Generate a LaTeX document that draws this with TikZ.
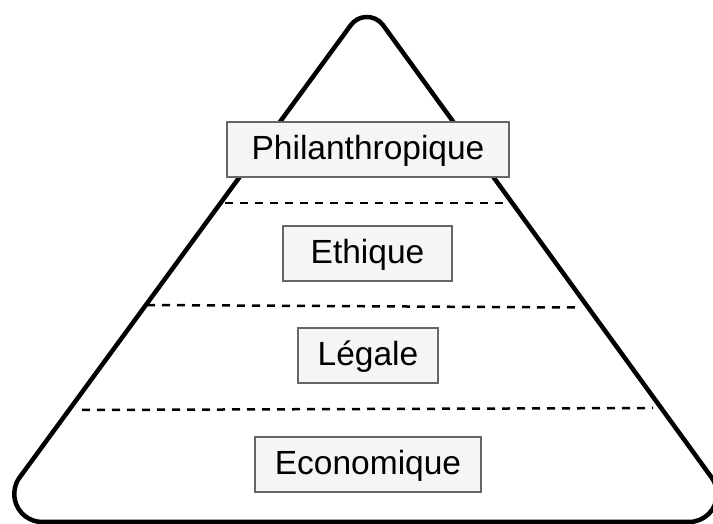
\documentclass[tikz,border=0pt]{standalone}
\usepackage{fontspec}
\setmainfont{Liberation Sans}
\definecolor{boxgray}{HTML}{666666}
\definecolor{boxfill}{HTML}{F5F5F5}
\begin{document}
\begin{tikzpicture}[x=1pt,y=1pt,
  pyramid/.style={draw=black,line width=4.5pt,line join=round},
  divider/.style={draw=black,line width=2.5pt,dash pattern=on 8pt off 7pt},
  levelbox/.style={draw=boxgray,fill=boxfill,line width=2pt,inner sep=0pt,
    minimum height=55pt,font=\fontsize{33.5}{40}\selectfont,
    text height=25pt,text depth=5pt}]
\useasboundingbox (0,0) rectangle (713,524);
\clip (0,0) rectangle (713,524);
% pyramid outline with rounded corners
\draw[pyramid] (42.2,2) -- (689,2)
  arc[start angle=-90,end angle=36,radius=28pt]
  -- (383.1,498.8)
  arc[start angle=36,end angle=143.9,radius=20pt]
  -- (19.6,46.5)
  arc[start angle=143.9,end angle=270,radius=28pt]
  -- cycle;
% dividers
\coordinate (d1a) at (225,321);
\coordinate (d1b) at (510,321);
\coordinate (d2a) at (147,219);
\coordinate (d2b) at (578,216.5);
\coordinate (d3a) at (82,114);
\coordinate (d3b) at (653,116);
\draw[divider] (d1a) -- (d1b);
\draw[divider] (d2a) -- (d2b);
\draw[divider] (d3a) -- (d3b);
% level labels
\node[levelbox,minimum width=282pt] (phil) at (368,374.7) {Philanthropique};
\node[levelbox,minimum width=169pt] (ethi) at (367.5,270.5) {Ethique};
\node[levelbox,minimum width=140pt] (lega) at (368,168.5) {Légale};
\node[levelbox,minimum width=226pt] (econ) at (368,59.5) {Economique};
\end{tikzpicture}
\end{document}
